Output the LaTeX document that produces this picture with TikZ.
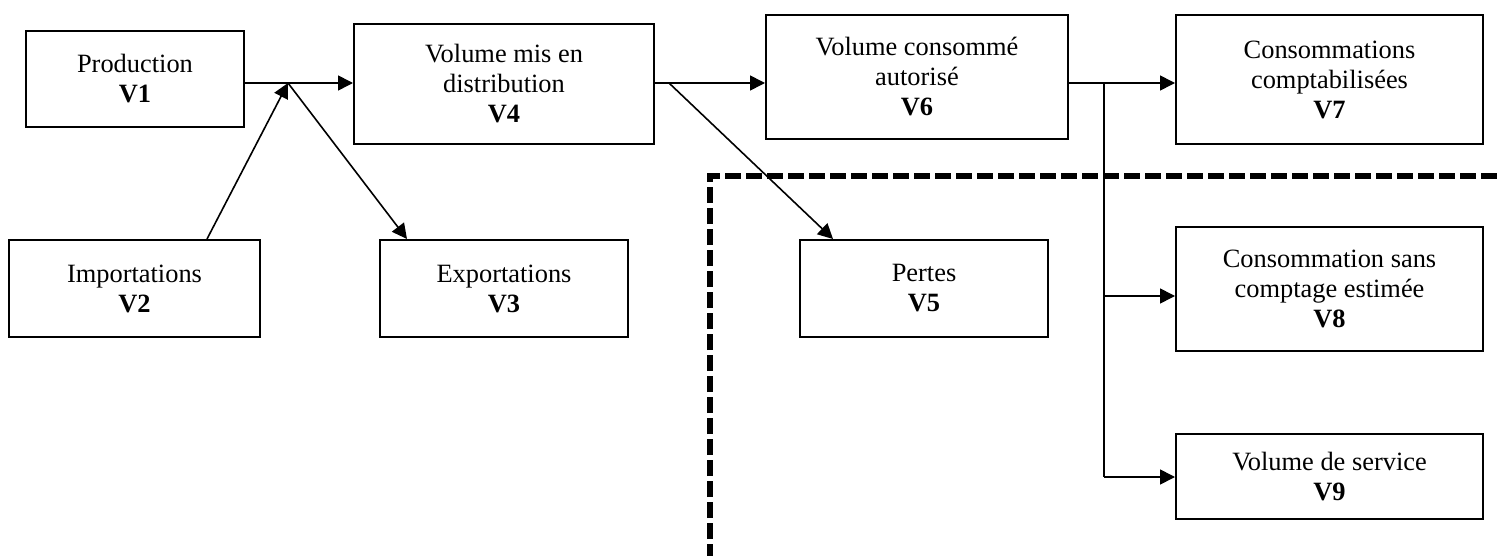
\documentclass[tikz,border=0pt]{standalone}
\usepackage{fontspec}
\setmainfont{Liberation Serif}
\usetikzlibrary{arrows.meta}
\begin{document}
\begin{tikzpicture}[x=1pt,y=-1pt,
  box/.style={draw=black, line width=2pt, rectangle, align=center, inner sep=0pt,
    font=\fontsize{26.4}{30}\selectfont},
  conn/.style={line width=1.6pt},
  arr/.style={conn, -{Triangle[length=15pt,width=15pt]}},
  boundary/.style={line width=6pt, dash pattern=on 16pt off 5pt}]
\useasboundingbox (0,0) rectangle (1501,556);
\fill[white] (0,0) rectangle (1501,556);

\node[box, minimum width=218pt, minimum height=96pt] (v1) at (135,79) {Production\\\textbf{V1}};
\node[box, minimum width=251pt, minimum height=97pt] (v2) at (134.5,288.5) {Importations\\\textbf{V2}};
\node[box, minimum width=248pt, minimum height=97pt] (v3) at (504,288.5) {Exportations\\\textbf{V3}};
\node[box, minimum width=300pt, minimum height=120pt] (v4) at (504,84) {Volume mis en\\distribution\\\textbf{V4}};
\node[box, minimum width=248pt, minimum height=97pt] (v5) at (924,288.5) {Pertes\\\textbf{V5}};
\node[box, minimum width=302pt, minimum height=124pt] (v6) at (917,77) {Volume consommé\\autorisé\\\textbf{V6}};
\node[box, minimum width=307pt, minimum height=129pt] (v7) at (1329.5,79.5) {Consommations\\comptabilisées\\\textbf{V7}};
\node[box, minimum width=307pt, minimum height=124pt] (v8) at (1329.5,289) {Consommation sans\\comptage estimée\\\textbf{V8}};
\node[box, minimum width=307pt, minimum height=85pt] (v9) at (1329.5,476.5) {Volume de service\\\textbf{V9}};

\coordinate (j1) at (288,83);
\coordinate (j2) at (669,83);
\coordinate (j3) at (1104,83);
\coordinate (j8) at (1104,296);
\coordinate (j9) at (1104,477);

% dashed boundary
\draw[boundary] (710,560) -- (710,176) -- (1510,176);

% connectors
\draw[conn] (v1.east |- j1) -- (j1);
\draw[arr] (j1) -- (v4.west |- j1);
\draw[arr] (v2.north -| 207,0) -- (j1);
\draw[arr] (j1) -- (v3.north -| 407,0);

\draw[arr] (v4.east |- j2) -- (v6.west |- j2);
\draw[arr] (j2) -- (v5.north -| 833,0);

\draw[conn] (v6.east |- j3) -- (j3);
\draw[arr] (j3) -- (v7.west |- j3);
\draw[conn] (j3) -- (j9);
\draw[arr] (j8) -- (v8.west |- j8);
\draw[arr] (j9) -- (v9.west |- j9);
\end{tikzpicture}
\end{document}
